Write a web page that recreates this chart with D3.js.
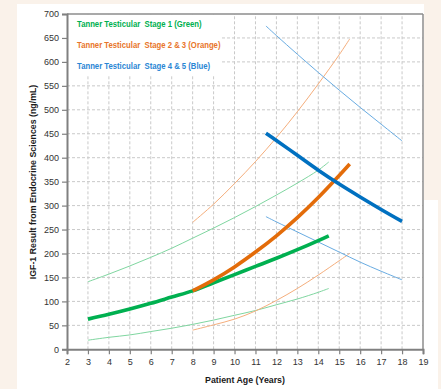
<!DOCTYPE html>
<html>
<head>
<meta charset="utf-8">
<script src="https://cdn.jsdelivr.net/npm/d3@7"></script>
<style>
  html, body { margin: 0; padding: 0; background: #faf2ea; }
  svg { display: block; }
</style>
</head>
<body>
<svg id="chart" width="441" height="389"></svg>
<script>
// ---- data ----
const xTicks = [2,3,4,5,6,7,8,9,10,11,12,13,14,15,16,17,18,19];
const yTicks = [0,50,100,150,200,250,300,350,400,450,500,550,600,650,700];

const ages1 = [3,4,5,6,7,8,9,10,11,12,13,14,14.5];
const stage1Mean  = [63,73,84,96,109,122,139,156,173,190,208,227,237];
const stage1Upper = [141,157,174,192,211,232,253,275,298,322,347,374,391];
const stage1Lower = [19,25,30,37,44,52,61,71,81,93,105,119,127];

const ages23 = [8,9,10,11,12,13,14,15,15.5];
const stage23Mean  = [122,145,172,203,237,275,317,363,387];
const stage23Upper = [265,303,346,392,442,496,554,615,648];
const stage23Lower = [40,51,63,80,102,127,155,185,200];

const ages45 = [11.5,12,13,14,15,16,17,18];
const stage45Mean  = [451,436,405,374,345,318,292,267];
const stage45Upper = [675,655,616,578,541,505,470,435];
const stage45Lower = [277,266,245,224,203,182,163,145];

const legendLabels = [
  "Tanner Testicular  Stage 1 (Green)",
  "Tanner Testicular  Stage 2 & 3 (Orange)",
  "Tanner Testicular  Stage 4 & 5 (Blue)"
];

// ---- drawing ----
const svg = d3.select("#chart");
const W = 441, H = 389;

// white panel
svg.append("rect").attr("x", 17).attr("y", 4).attr("width", 407).attr("height", H - 4).attr("fill", "#fff");
svg.append("rect").attr("x", 420).attr("y", 200).attr("width", 18).attr("height", H - 200).attr("fill", "#fff");

const x = d3.scaleLinear().domain([2, 19]).range([67, 423]);
const y = d3.scaleLinear().domain([0, 700]).range([349.3, 14]);

// grid
const grid = svg.append("g");
grid.selectAll("line.v").data(xTicks.slice(1, -1)).join("line")
  .attr("x1", d => x(d)).attr("x2", d => x(d))
  .attr("y1", y(0)).attr("y2", y(700))
  .attr("stroke", "#c9c9c9").attr("stroke-width", 1).attr("stroke-dasharray", "3,2");
grid.selectAll("line.h").data(yTicks.slice(1, -1)).join("line")
  .attr("x1", x(2)).attr("x2", x(19))
  .attr("y1", d => y(d)).attr("y2", d => y(d))
  .attr("stroke", "#c9c9c9").attr("stroke-width", 1).attr("stroke-dasharray", "3,2");

// legend backdrop (covers grid)
svg.append("rect").attr("x", x(2) + 1).attr("y", y(700) + 1)
  .attr("width", x(9.3) - x(2)).attr("height", 60).attr("fill", "#fff");

// border top & right
svg.append("line").attr("x1", x(2)).attr("x2", x(19)).attr("y1", y(700)).attr("y2", y(700))
  .attr("stroke", "#8c8c8c").attr("stroke-width", 1.5);
svg.append("line").attr("x1", x(19)).attr("x2", x(19)).attr("y1", y(700)).attr("y2", y(0))
  .attr("stroke", "#8c8c8c").attr("stroke-width", 1.5);

// axes
const yAxis = d3.axisLeft(y).tickValues(yTicks).tickSize(5).tickPadding(3).tickFormat(d3.format("d"));
const xAxis = d3.axisBottom(x).tickValues(xTicks).tickSize(5).tickPadding(4).tickFormat(d3.format("d"));
const gy = svg.append("g").attr("transform", `translate(${x(2)},0)`).call(yAxis);
const gx = svg.append("g").attr("transform", `translate(0,${y(0)})`).call(xAxis);
[gx, gy].forEach(g => {
  g.select(".domain").attr("stroke", "#808080").attr("stroke-width", 2);
  g.selectAll(".tick line").attr("stroke", "#808080").attr("stroke-width", 1.2);
  g.selectAll(".tick text").attr("fill", "#333").style("font-family", "'Liberation Sans', Arial, sans-serif").style("font-size", "9px");
});

// lines
const line = d3.line().x(d => x(d[0])).y(d => y(d[1])).curve(d3.curveCatmullRom.alpha(0.5));
const series = [
  {ages: ages1, vals: stage1Upper, color: "#7fd6a0", w: 1},
  {ages: ages1, vals: stage1Lower, color: "#7fd6a0", w: 1},
  {ages: ages23, vals: stage23Upper, color: "#f5ae7c", w: 1},
  {ages: ages23, vals: stage23Lower, color: "#f5ae7c", w: 1},
  {ages: ages45, vals: stage45Upper, color: "#69ace2", w: 1},
  {ages: ages45, vals: stage45Lower, color: "#69ace2", w: 1},
  {ages: ages1, vals: stage1Mean, color: "#00b050", w: 3.6},
  {ages: ages23, vals: stage23Mean, color: "#e36c0a", w: 3.6},
  {ages: ages45, vals: stage45Mean, color: "#0070c0", w: 3.6}
];
svg.append("g").selectAll("path").data(series).join("path")
  .attr("d", s => line(s.ages.map((a, i) => [a, s.vals[i]])))
  .attr("fill", "none").attr("stroke", s => s.color).attr("stroke-width", s => s.w)
  .attr("stroke-linecap", "butt");

// legend
const legendColors = ["#00b050", "#e8752a", "#2a86d4"];
svg.append("g").selectAll("text").data(legendLabels).join("text")
  .attr("transform", (d, i) => `translate(77,${26.5 + i * 21.3}) scale(0.86,1)`)
  .attr("fill", (d, i) => legendColors[i])
  .style("font-family", "'Liberation Sans', Arial, sans-serif")
  .style("font-weight", "bold").style("font-size", "9px")
  .style("white-space", "pre")
  .text(d => d);

// axis titles
svg.append("text").attr("x", 245).attr("y", 382.5).attr("text-anchor", "middle")
  .style("font-family", "'Liberation Sans', Arial, sans-serif").style("font-weight", "bold").style("font-size", "8.8px")
  .attr("fill", "#1a1a1a").text("Patient Age (Years)");
svg.append("text").attr("transform", "translate(36,182) rotate(-90)").attr("text-anchor", "middle")
  .style("font-family", "'Liberation Sans', Arial, sans-serif").style("font-weight", "bold").style("font-size", "8.8px")
  .attr("fill", "#1a1a1a").text("IGF-1 Result from Endocrine Sciences (ng/mL)");
</script>
</body>
</html>
